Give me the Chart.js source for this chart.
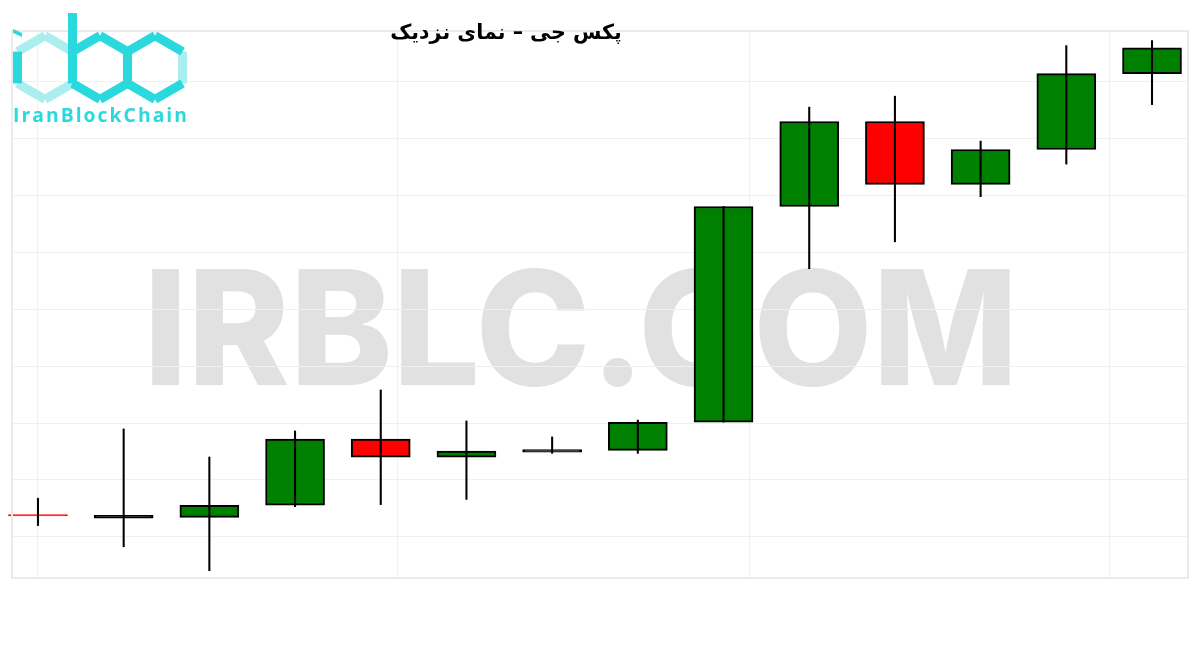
<!DOCTYPE html>
<html lang="fa">
<head>
<meta charset="utf-8">
<title>پکس جی – نمای نزدیک</title>
<script src="https://cdn.jsdelivr.net/npm/chart.js@4.4.1/dist/chart.umd.min.js"></script>
<style>
    html, body { margin: 0; padding: 0; background: #fff; }
    #wrap { width: 1200px; height: 650px; position: relative; }
</style>
</head>
<body>
<div id="wrap"><canvas id="candleChart"></canvas></div>
<script>
// Texts
const chartTitle = 'پکس جی – نمای نزدیک';
const watermarkText = 'IRBLC.COM';
const logoText = 'IranBlockChain';

// Candle data
const candleIndex = [0, 1, 2, 3, 4, 5, 6, 7, 8, 9, 10, 11, 12, 13];
const openPrices  = [1809.8, 1808.3, 1808.6, 1813.9, 1842.9, 1835.0, 1837.2, 1838.0, 1850.4, 1945.0, 1982.3, 1954.7, 1970.0, 2003.3];
const highPrices  = [1817.0, 1847.4, 1835.1, 1846.5, 1864.5, 1850.9, 1843.9, 1851.3, 1945.0, 1988.6, 1993.4, 1973.7, 2015.6, 2017.8];
const lowPrices   = [1805.0, 1795.7, 1785.2, 1813.3, 1814.2, 1816.5, 1836.7, 1836.7, 1850.4, 1917.7, 1929.5, 1949.3, 1963.6, 1989.7];
const closePrices = [1809.2, 1809.5, 1813.9, 1842.9, 1835.0, 1837.7, 1838.3, 1850.3, 1945.0, 1982.3, 1954.7, 1970.0, 2003.3, 2014.6];

// Where the faint vertical grid lines sit (in candle units)
const xGridAt = [0, 4.2, 8.3, 12.5];

const UP_COLOR = '#008000';
const DOWN_COLOR = '#ff0000';
const GRID_COLOR = '#f0f0f0';
const CYAN = '#2ad9de';
const CYAN_LIGHT = '#aaeef0';

// Background watermark, drawn under the grid
const watermarkPlugin = {
    id: 'watermark',
    beforeDraw(chart) {
        const ctx = chart.ctx;
        ctx.save();
        ctx.font = '800 162px Inter';
        ctx.fillStyle = '#e1e1e1';
        ctx.textBaseline = 'alphabetic';
        const m = ctx.measureText(watermarkText);
        const w = m.actualBoundingBoxLeft + m.actualBoundingBoxRight;
        ctx.translate(152, 385);
        ctx.scale(858 / w, 117 / m.actualBoundingBoxAscent);
        ctx.fillText(watermarkText, m.actualBoundingBoxLeft, 0);
        ctx.restore();
    }
};

// Hexagon edges (pointy top), edges listed by index 0..5
function hexEdges(ctx, cx, cy, r, edges, color, width) {
    const pts = [];
    for (let k = 0; k < 6; k++) {
        const a = (-90 + 60 * k) * Math.PI / 180;
        pts.push([cx + r * Math.cos(a), cy + r * Math.sin(a)]);
    }
    ctx.strokeStyle = color;
    ctx.lineWidth = width;
    ctx.lineCap = 'butt';
    ctx.lineJoin = 'miter';
    ctx.beginPath();
    edges.forEach(e => {
        const p1 = pts[e];
        const p2 = pts[(e + 1) % 6];
        ctx.moveTo(p1[0], p1[1]);
        ctx.lineTo(p2[0], p2[1]);
    });
    ctx.stroke();
}

// Frame, logo and title on top
const overlayPlugin = {
    id: 'overlay',
    afterDraw(chart) {
        const ctx = chart.ctx;
        const area = chart.chartArea;
        ctx.save();

        // frame
        ctx.strokeStyle = '#ebebeb';
        ctx.lineWidth = 2;
        ctx.strokeRect(area.left, area.top, area.right - area.left, area.bottom - area.top);

        // logo
        const r = 31.8, cy = 67.5, sw = 9;
        hexEdges(ctx, 45, cy, r, [5, 0, 2, 3], CYAN_LIGHT, sw);
        hexEdges(ctx, 45, cy, r, [4], CYAN, sw);
        hexEdges(ctx, 155, cy, r, [1], CYAN_LIGHT, sw);
        hexEdges(ctx, 155, cy, r, [0, 2, 3, 4, 5], CYAN, sw);
        hexEdges(ctx, 100, cy, r, [0, 1, 2, 3, 4, 5], CYAN, sw);
        // stem of the "b"
        ctx.fillStyle = CYAN;
        ctx.fillRect(68, 13, 9, 60);
        // dot of the "i"
        ctx.beginPath();
        ctx.moveTo(13, 29);
        ctx.lineTo(22, 33);
        ctx.lineTo(22, 37);
        ctx.lineTo(13, 33);
        ctx.closePath();
        ctx.fill();

        ctx.font = 'bold 19px "Open Sans"';
        ctx.letterSpacing = '2px';
        ctx.textBaseline = 'alphabetic';
        const lw = ctx.measureText(logoText).width - 2;
        ctx.save();
        ctx.translate(13, 122);
        ctx.scale(174 / lw, 1);
        ctx.fillText(logoText, 0, 0);
        ctx.restore();
        ctx.letterSpacing = '0px';

        // title
        ctx.fillStyle = '#000';
        ctx.direction = 'rtl';
        ctx.textAlign = 'center';
        ctx.textBaseline = 'middle';
        ctx.font = 'bold 20px "DejaVu Sans"';
        const tw = ctx.measureText(chartTitle).width;
        const size = 20 * 232 / tw;
        ctx.font = 'bold ' + size.toFixed(1) + 'px "DejaVu Sans"';
        ctx.fillText(chartTitle, 506, 34);

        ctx.restore();
    }
};

// Build the chart
function initCandleChart() {
    const ctx = document.getElementById('candleChart').getContext('2d');

    const wickData = candleIndex.map(i => ({ x: i, y: [lowPrices[i], highPrices[i]] }));
    const bodyData = candleIndex.map(i => ({ x: i, y: [openPrices[i], closePrices[i]] }));

    const isUp = i => closePrices[i] >= openPrices[i];
    const isFlat = i => Math.abs(closePrices[i] - openPrices[i]) < 1.5;

    // flat candles show only a line: black when up, red when down
    const bodyFill = i => {
        if (isFlat(i)) return isUp(i) ? '#000' : DOWN_COLOR;
        return isUp(i) ? UP_COLOR : DOWN_COLOR;
    };

    new Chart(ctx, {
        type: 'bar',
        data: {
            datasets: [
                {
                    label: 'wick',
                    data: wickData,
                    backgroundColor: '#000',
                    borderWidth: 0,
                    barThickness: 1.4,
                    grouped: false,
                    clip: false
                },
                {
                    label: 'body',
                    data: bodyData,
                    backgroundColor: c => bodyFill(c.dataIndex),
                    borderColor: c => (isFlat(c.dataIndex) && !isUp(c.dataIndex)) ? DOWN_COLOR : '#000',
                    borderWidth: 2,
                    borderSkipped: false,
                    barThickness: 59,
                    grouped: false,
                    clip: false
                }
            ]
        },
        options: {
            responsive: true,
            maintainAspectRatio: false,
            animation: false,
            layout: { padding: { left: 12, right: 12, top: 31, bottom: 72 } },
            plugins: {
                legend: { display: false },
                tooltip: { enabled: false },
                title: { display: false }
            },
            scales: {
                x: {
                    type: 'linear',
                    offset: false,
                    min: -0.303,
                    max: 13.42,
                    ticks: { display: false },
                    grid: { color: GRID_COLOR, drawTicks: false, offset: false },
                    border: { display: false },
                    afterBuildTicks: axis => {
                        axis.ticks = xGridAt.map(v => ({ value: v }));
                    }
                },
                y: {
                    min: 1782,
                    max: 2022,
                    ticks: { display: false, stepSize: 25 },
                    grid: { color: GRID_COLOR, drawTicks: false },
                    border: { display: false }
                }
            }
        },
        plugins: [watermarkPlugin, overlayPlugin]
    });
}

document.addEventListener('DOMContentLoaded', initCandleChart);
</script>
</body>
</html>
